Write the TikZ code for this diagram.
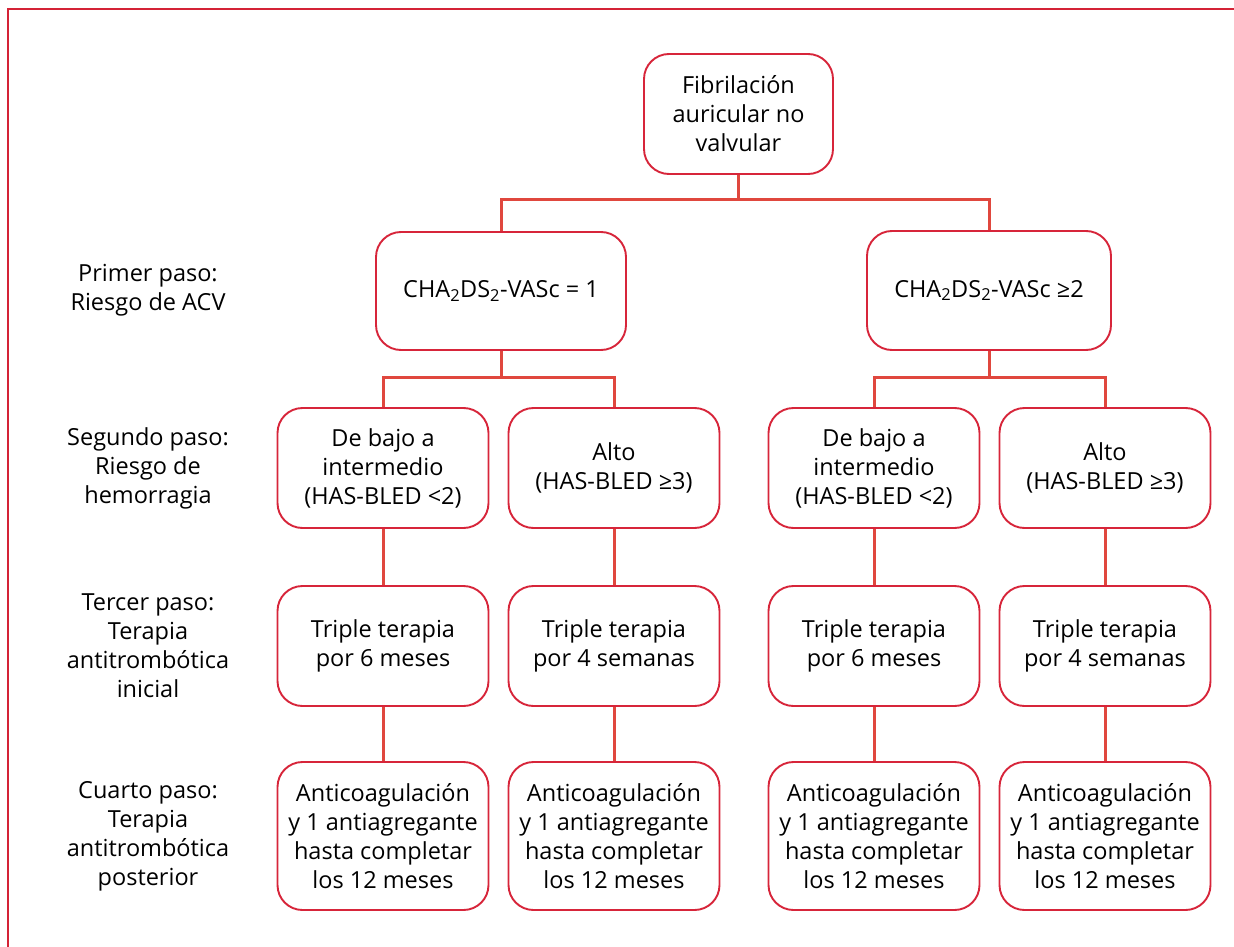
\documentclass[tikz,border=0pt]{standalone}
\usepackage{fontspec}
\setmainfont{Open Sans}
\begin{document}
\begin{tikzpicture}[x=1pt,y=-1pt,
  every node/.style={font=\fontsize{23.5}{29}\selectfont, text=black},
  box/.style={draw=boxred, line width=1.9pt, rounded corners=25pt, fill=white, align=center, inner sep=1pt},
  conn/.style={draw=linered, line width=3pt},
  lbl/.style={align=center}]
\definecolor{boxred}{HTML}{D7253A}
\definecolor{linered}{HTML}{E0473E}
\definecolor{framered}{HTML}{D42336}
\useasboundingbox (0,0) rectangle (1234,947);
\draw[framered, line width=2.6pt] (8,947) -- (8,9) -- (1234,9);

% nodes
\node[box, minimum width=189pt, minimum height=120pt] (top) at (738.5,114) {Fibrilación\\auricular no\\valvular};
\node[box, minimum width=250pt, minimum height=118pt] (chaL) at (501,291) {CHA\textsubscript{2}DS\textsubscript{2}-VASc = 1};
\node[box, minimum width=244pt, minimum height=119pt] (chaR) at (989,290.5) {CHA\textsubscript{2}DS\textsubscript{2}-VASc ≥2};

\tikzset{r3/.style={box, minimum width=211pt, minimum height=120pt},
         r5/.style={box, minimum width=211pt, minimum height=148pt}}
\node[r3] (b3a) at (383,468) {De bajo a\\intermedio\\(HAS-BLED <2)};
\node[r3] (b3b) at (614,468) {Alto\\(HAS-BLED ≥3)};
\node[r3] (b3c) at (874,468) {De bajo a\\intermedio\\(HAS-BLED <2)};
\node[r3] (b3d) at (1105,468) {Alto\\(HAS-BLED ≥3)};

\node[r3] (b4a) at (383,646) {Triple terapia\\por 6 meses};
\node[r3] (b4b) at (614,646) {Triple terapia\\por 4 semanas};
\node[r3] (b4c) at (874,646) {Triple terapia\\por 6 meses};
\node[r3] (b4d) at (1105,646) {Triple terapia\\por 4 semanas};

\node[r5] (b5a) at (383,836) {Anticoagulación\\y 1 antiagregante\\hasta completar\\los 12 meses};
\node[r5] (b5b) at (614,836) {Anticoagulación\\y 1 antiagregante\\hasta completar\\los 12 meses};
\node[r5] (b5c) at (874,836) {Anticoagulación\\y 1 antiagregante\\hasta completar\\los 12 meses};
\node[r5] (b5d) at (1105,836) {Anticoagulación\\y 1 antiagregante\\hasta completar\\los 12 meses};

% left labels
\node[lbl] (l1) at (148,290) {Primer paso:\\Riesgo de ACV};
\node[lbl] (l2) at (148,468) {Segundo paso:\\Riesgo de\\hemorragia};
\node[lbl] (l3) at (148,646) {Tercer paso:\\Terapia\\antitrombótica\\inicial};
\node[lbl] (l4) at (148,836) {Cuarto paso:\\Terapia\\antitrombótica\\posterior};

% connectors
\coordinate (j1) at (738.5,199);
\coordinate (j2) at (501,377);
\coordinate (j3) at (989,377);
\draw[conn] (top.south) -- (j1);
\draw[conn] (j1) -| (chaL.north);
\draw[conn] (j1) -| (chaR.north);
\draw[conn] (chaL.south) -- (j2);
\draw[conn] (j2) -| (b3a.north);
\draw[conn] (j2) -| (b3b.north);
\draw[conn] (chaR.south) -- (j3);
\draw[conn] (j3) -| (b3c.north);
\draw[conn] (j3) -| (b3d.north);
\foreach \n in {a,b,c,d} {
  \draw[conn] (b3\n.south) -- (b4\n.north);
  \draw[conn] (b4\n.south) -- (b5\n.north);
}
\end{tikzpicture}
\end{document}
